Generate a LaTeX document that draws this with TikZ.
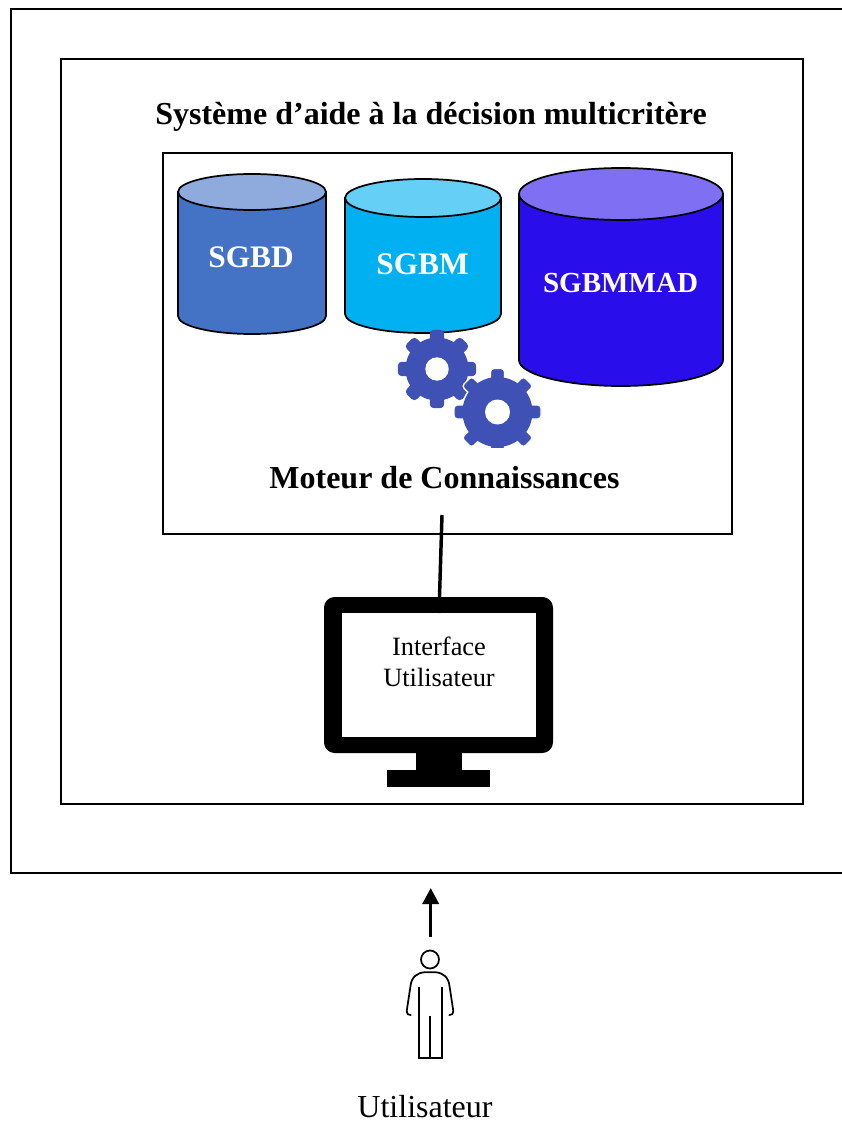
\documentclass[tikz,border=0pt]{standalone}
\usepackage{fontspec}
\setmainfont{Liberation Serif}
\usetikzlibrary{arrows.meta}
\definecolor{sgbdbody}{HTML}{4472C4}
\definecolor{sgbdlid}{HTML}{8FAADC}
\definecolor{sgbmbody}{HTML}{00B0F0}
\definecolor{sgbmlid}{HTML}{66CFF6}
\definecolor{madbody}{HTML}{2A0DEB}
\definecolor{madlid}{HTML}{7F6FF3}
\definecolor{gearblue}{HTML}{3F51B5}
\newcommand{\pxfont}[1]{\fontsize{#1}{#1}\selectfont}
\begin{document}
\begin{tikzpicture}[x=0.75pt,y=-0.75pt,
    box/.style={draw=black, line width=1.1pt, minimum width=#1},
    boxtitle/.style={font=\pxfont{24}\bfseries, inner sep=0pt},
    cyltext/.style={font=\pxfont{23.5}\bfseries, text=white, inner sep=0pt},
    pics/gearwheel/.style n args={5}{code={
        \path[fill=#5] (0,0) circle (#1+1.5);
        \foreach \a in {0,45,...,315}
            \path[rotate=\a, fill=gearblue, draw=#5, line width=1pt, rounded corners=2.5pt]
                (#1-4,-#3/2) rectangle (#2,#3/2);
        \fill[gearblue] (0,0) circle (#1);
        \fill[white] (0,0) circle (#4);
    }}]
\useasboundingbox (0,0) rectangle (841,1126);
% frames
\coordinate (frametr) at (845,9);
\coordinate (frametl) at (11,9);
\coordinate (framebl) at (11,873);
\coordinate (framebr) at (845,873);
\draw[line width=1.9pt] (frametr) -- (frametl) -- (framebl) -- (framebr);
\node[box, minimum width=742*0.75pt, minimum height=745*0.75pt, outer sep=0pt] (dss) at (432,431.5) {};
\node[box, minimum width=569*0.75pt, minimum height=381*0.75pt, outer sep=0pt] (engine) at (447.5,343.5) {};
\node[boxtitle] (dsstitle) at (431,117) {Système d’aide à la décision multicritère};
% cylinders
\foreach \cx/\rx/\ytop/\ybot/\ry/\body/\lid in {
    252/74/192/316/18/sgbdbody/sgbdlid,
    423/78/198/314/19/sgbmbody/sgbmlid,
    621/102/194/360/26/madbody/madlid}{
    \draw[line width=1.3pt, fill=\body] (\cx-\rx,\ytop) -- (\cx-\rx,\ybot)
        arc[start angle=180, end angle=0, x radius=\rx, y radius=\ry] -- (\cx+\rx,\ytop) -- cycle;
    \draw[line width=1.3pt, fill=\lid] (\cx,\ytop) ellipse [x radius=\rx, y radius=\ry];
}
\node[cyltext] (sgbd) at (251,257) {SGBD};
\node[cyltext] (sgbm) at (422.5,264) {SGBM};
\node[cyltext, font=\pxfont{21.8}\bfseries] (sgbmmad) at (620.5,283) {SGBMMAD};
% gears
\pic at (437,369) {gearwheel={30}{38.5}{13}{11.7}{gearblue}};
\begin{scope}
    \clip (440,340) rectangle (560,447.5);
    \pic at (497.5,412) {gearwheel={35}{43.5}{14}{12.5}{white}};
\end{scope}
\node[boxtitle] (enginetitle) at (444.5,478) {Moteur de Connaissances};
% screen
\node[fill=black, rounded corners=8pt, minimum width=229*0.75pt, minimum height=156*0.75pt, outer sep=0pt] (monitor) at (438.5,675) {};
\node[fill=white, minimum width=194*0.75pt, minimum height=124*0.75pt, outer sep=0pt] (screen) at (439,675) {};
\node[fill=black, minimum width=46*0.75pt, minimum height=20*0.75pt, inner sep=0pt, anchor=north] (neck) at (439,752) {};
\node[fill=black, minimum width=103*0.75pt, minimum height=17*0.75pt, inner sep=0pt, anchor=north] (foot) at (438.5,770) {};
\node[font=\pxfont{19.8}, align=center, inner sep=0pt] (iface) at (439,662) {Interface\\[3pt]Utilisateur};
\coordinate (linktop) at (442,515);
\draw[line width=2.6pt] (linktop) -- (screen.north);
% user
\coordinate (arrowfrom) at (430.7,937);
\coordinate (arrowto) at (430.7,888);
\draw[line width=2.6pt, -{Triangle[length=12pt, width=12pt]}] (arrowfrom) -- (arrowto);
\node[draw, circle, line width=1.3pt, minimum size=18*0.75pt, inner sep=0pt] (head) at (430,959.5) {};
\draw[line width=1.3pt, line cap=round, line join=round]
    (410.7,1015) .. controls (408,1015) and (406.5,1014) .. (406.7,1011)
    -- (410.5,986) .. controls (411.5,977) and (417,972.7) .. (425,972.2)
    -- (435,972.2) .. controls (443,972.7) and (448.5,977) .. (449.5,986)
    -- (453.3,1011) .. controls (453.5,1014) and (452,1015) .. (449.3,1015);
\draw[line width=1.3pt] (418.7,987.3) -- (418.7,1057.7) -- (441.7,1057.7) -- (441.7,987.3)
    (430,1015.7) -- (430,1057.7);
\node[font=\pxfont{24}, inner sep=0pt] (user) at (425,1107) {Utilisateur};
\end{tikzpicture}
\end{document}
